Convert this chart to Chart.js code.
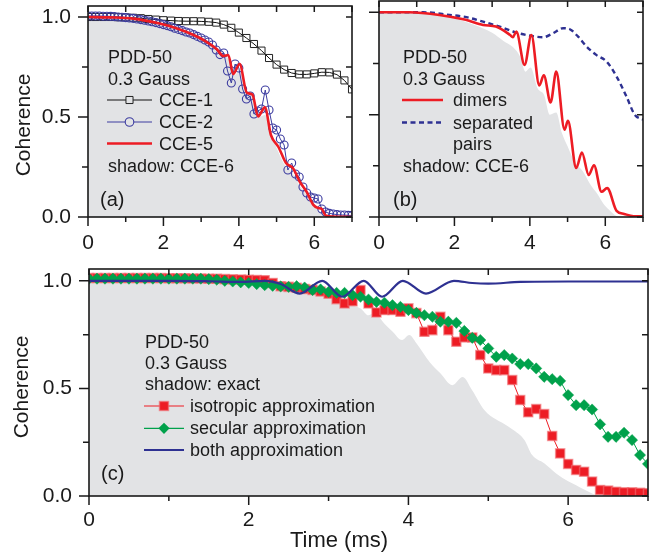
<!DOCTYPE html>
<html>
<head>
<meta charset="utf-8">
<script src="https://cdn.jsdelivr.net/npm/chart.js@4.4.1/dist/chart.umd.min.js"></script>
<style>
  body { margin: 0; background: #fff; }
  #wrap { position: relative; width: 667px; height: 559px; }
  canvas { position: absolute; }
</style>
</head>
<body>
<div id="wrap">
  <canvas id="panelA" width="360" height="262" style="left:0;top:0"></canvas>
  <canvas id="panelB" width="307" height="262" style="left:360px;top:0"></canvas>
  <canvas id="panelC" width="667" height="304" style="left:0;top:255px"></canvas>
</div>
<script>
// time grids (ms)
const t01 = Array.from({length: 71}, (_, i) => i / 10);
const t02 = Array.from({length: 36}, (_, i) => i / 5);

// panel (a)
const cce1 = [1.0, 1.0, 1.0, 1.0, 0.999, 0.998, 0.996, 0.994, 0.99, 0.987, 0.984, 0.982,
  0.98, 0.979, 0.979, 0.978, 0.976, 0.972, 0.962, 0.946, 0.922, 0.895, 0.865, 0.832,
  0.795, 0.762, 0.737, 0.72, 0.713, 0.713, 0.718, 0.724, 0.723, 0.712, 0.683, 0.638];
const cce2 = [1.005, 1.005, 1.005, 1.005, 1.004, 1.004, 1.003, 1.002, 1.0, 0.999,
  0.997, 0.995, 0.993, 0.99, 0.987, 0.984, 0.98, 0.976, 0.972, 0.967,
  0.962, 0.957, 0.951, 0.944, 0.938, 0.932, 0.925, 0.92, 0.912, 0.903,
  0.895, 0.885, 0.875, 0.86, 0.835, 0.812, 0.82, 0.73, 0.67, 0.765,
  0.745, 0.64, 0.59, 0.605, 0.515, 0.53, 0.54, 0.635, 0.535, 0.445,
  0.435, 0.39, 0.36, 0.235, 0.27, 0.215, 0.2, 0.15, 0.12, 0.1,
  0.095, 0.09, 0.04, 0.025, 0.018, 0.015, 0.012, 0.01, 0.01, 0.008, 0.008];
const cce5Time = [0, 0.6, 1.2, 1.9, 2.4, 2.8, 3.1, 3.41, 3.59, 3.72, 3.85, 4.02, 4.21, 4.36,
  4.51, 4.69, 4.85, 5.05, 5.25, 5.44, 5.62, 5.8, 5.97, 6.1, 6.2, 6.3, 6.5, 7.0];
const cce5 = [1.0, 0.998, 0.992, 0.967, 0.94, 0.91, 0.881, 0.84, 0.805, 0.81, 0.715, 0.765,
  0.622, 0.612, 0.503, 0.548, 0.41, 0.35, 0.27, 0.243, 0.175, 0.125, 0.062, 0.045, 0.04,
  0.008, 0.002, 0.0];

// CCE-6 shadow, shared by (a) and (b)
const cce6Time = [0, 1.0, 1.5, 2.0, 2.5, 3.0, 3.3, 3.55, 3.75, 3.88, 4.02, 4.2, 4.38, 4.53,
  4.7, 4.85, 5.0, 5.2, 5.4, 5.6, 5.8, 5.95, 6.1, 6.25, 6.4, 7.0];
const cce6 = [1.0, 0.997, 0.988, 0.97, 0.94, 0.9, 0.86, 0.83, 0.78, 0.71, 0.73, 0.63, 0.595,
  0.5, 0.51, 0.41, 0.345, 0.265, 0.225, 0.16, 0.11, 0.065, 0.035, 0.01, 0.0, 0.0];

// panel (b)
const dimerTime = [0, 0.8, 1.6, 2.3, 2.76, 3.1, 3.47, 3.55, 3.64, 3.86, 4.04, 4.25, 4.37,
  4.55, 4.7, 4.92, 5.01, 5.23, 5.38, 5.56, 5.7, 5.9, 6.05, 6.3, 6.5, 6.75, 7.0];
const dimers = [1.0, 1.0, 0.987, 0.963, 0.938, 0.93, 0.89, 0.878, 0.906, 0.743, 0.889, 0.643,
  0.692, 0.56, 0.71, 0.426, 0.47, 0.239, 0.315, 0.205, 0.253, 0.123, 0.141, 0.03, 0.015,
  0.004, 0.003];
const pairTime = [0, 1.17, 1.87, 2.32, 2.76, 3.2, 3.55, 3.91, 4.35, 4.62, 4.88, 5.06, 5.28,
  5.5, 5.76, 6.03, 6.3, 6.56, 6.78, 7.0];
const pairs = [1.0, 1.0, 0.987, 0.976, 0.954, 0.93, 0.906, 0.889, 0.878, 0.898, 0.922, 0.917,
  0.881, 0.833, 0.792, 0.76, 0.686, 0.589, 0.5, 0.475];

// panel (c)
const isotropic = [1.013, 1.013, 1.013, 1.013, 1.013, 1.013, 1.013, 1.013, 1.013, 1.013,
  1.012, 1.012, 1.012, 1.011, 1.011, 1.01, 1.01, 1.008, 1.007, 1.006,
  1.005, 1.004, 1.003, 0.99, 0.975, 0.972, 0.968, 0.962, 0.958, 0.95,
  0.94, 0.915, 0.895, 0.905, 0.957, 0.895, 0.853, 0.864, 0.864, 0.856,
  0.872, 0.85, 0.763, 0.771, 0.833, 0.771, 0.717, 0.737, 0.737, 0.655,
  0.593, 0.585, 0.585, 0.539, 0.446, 0.389, 0.404, 0.381, 0.279, 0.198,
  0.149, 0.121, 0.113, 0.067, 0.028, 0.025, 0.02, 0.017, 0.017, 0.015, 0.013];
const secular = [1.01, 1.01, 1.01, 1.01, 1.01, 1.01, 1.01, 1.01, 1.01, 1.01,
  1.01, 1.01, 1.01, 1.01, 1.01, 1.008, 1.005, 1.0, 0.997, 0.993,
  0.99, 0.985, 0.98, 0.977, 0.974, 0.972, 0.975, 0.969, 0.957, 0.96,
  0.949, 0.944, 0.944, 0.934, 0.926, 0.913, 0.902, 0.898, 0.887, 0.879,
  0.864, 0.851, 0.84, 0.833, 0.81, 0.81, 0.805, 0.767, 0.735, 0.725,
  0.686, 0.647, 0.655, 0.639, 0.613, 0.613, 0.593, 0.554, 0.543, 0.535,
  0.469, 0.422, 0.422, 0.402, 0.333, 0.275, 0.275, 0.294, 0.26, 0.19, 0.149];
const bothTime = [0, 1.0, 1.5, 1.9, 2.2, 2.4, 2.64, 2.92, 3.17, 3.44, 3.67, 3.93, 4.22, 4.57,
  4.8, 5.0, 5.4, 6.0, 7.0];
const both = [1.0, 1.0, 0.998, 0.995, 1.0, 0.985, 0.941, 1.0, 0.926, 1.0, 0.926, 1.0, 0.941,
  1.0, 0.99, 0.987, 0.995, 0.997, 0.997];
const exactTime = [0, 1.0, 1.5, 2.0, 2.4, 2.8, 3.0, 3.2, 3.4, 3.5, 3.58, 3.7, 3.8, 3.92, 4.01,
  4.1, 4.27, 4.4, 4.55, 4.68, 4.8, 4.95, 5.1, 5.2, 5.3, 5.45, 5.55, 5.7, 5.85, 6.0, 6.1,
  6.2, 6.3, 6.4, 7.0];
const exact = [1.0, 1.0, 0.998, 0.988, 0.973, 0.945, 0.922, 0.893, 0.872, 0.84, 0.85, 0.8,
  0.765, 0.725, 0.748, 0.71, 0.62, 0.57, 0.515, 0.553, 0.49, 0.4, 0.355, 0.335, 0.31, 0.262,
  0.19, 0.152, 0.105, 0.068, 0.05, 0.03, 0.012, 0.0, 0.0];

const INK = '#1a1a1a';
const RED = '#ed1c24';
const NAVY = '#2e3192';
const GREEN = '#00a14b';
const SHADE = '#e2e3e5';
const FONT = "'Liberation Sans', Arial, Helvetica, sans-serif";

Chart.defaults.font.family = FONT;
Chart.defaults.color = INK;

const pts = (xs, ys) => xs.map((x, i) => ({x: x, y: ys[i]}));

function drawMarker(ctx, kind, x, y, r, fill, stroke, lw) {
    ctx.beginPath();
    if (kind === 'rect') {
        const h = r * Math.SQRT1_2;
        ctx.rect(x - h, y - h, 2 * h, 2 * h);
    } else if (kind === 'rectRot') {
        ctx.moveTo(x - r, y); ctx.lineTo(x, y - r); ctx.lineTo(x + r, y); ctx.lineTo(x, y + r);
        ctx.closePath();
    } else {
        ctx.arc(x, y, r, 0, Math.PI * 2);
    }
    if (fill) { ctx.fillStyle = fill; ctx.fill(); }
    if (stroke) { ctx.strokeStyle = stroke; ctx.lineWidth = lw || 1; ctx.stroke(); }
}

// box round the plot with ticks on all four sides
const framePlugin = {
    id: 'frame',
    afterDraw(chart) {
        const ctx = chart.ctx;
        const a = chart.chartArea;
        const x = chart.scales.x, y = chart.scales.y;
        ctx.save();
        ctx.strokeStyle = INK;
        ctx.lineWidth = 1.5;
        ctx.beginPath();
        x.ticks.forEach(tk => {
            const px = x.getPixelForValue(tk.value);
            const major = tk.value % 2 === 0;
            ctx.moveTo(px, a.bottom); ctx.lineTo(px, a.bottom + (major ? 9 : 5));
            ctx.moveTo(px, a.top); ctx.lineTo(px, a.top + 6);
        });
        y.ticks.forEach(tk => {
            const py = y.getPixelForValue(tk.value);
            const major = Math.abs(tk.value * 2 - Math.round(tk.value * 2)) < 1e-9;
            ctx.moveTo(a.left, py); ctx.lineTo(a.left - (major ? 10 : 6), py);
            ctx.moveTo(a.right, py); ctx.lineTo(a.right - 6, py);
        });
        ctx.stroke();
        ctx.lineWidth = 1.6;
        ctx.strokeRect(a.left, a.top, a.right - a.left, a.bottom - a.top);
        ctx.restore();
    }
};

// legend block, panel letter and axis titles
const notesPlugin = {
    id: 'notes',
    afterDraw(chart, args, opts) {
        const ctx = chart.ctx;
        ctx.save();
        (opts.samples || []).forEach(s => {
            ctx.strokeStyle = s.color;
            ctx.lineWidth = s.width;
            ctx.setLineDash(s.dash || []);
            ctx.beginPath(); ctx.moveTo(s.x1, s.y); ctx.lineTo(s.x2, s.y); ctx.stroke();
            ctx.setLineDash([]);
            if (s.marker) drawMarker(ctx, s.marker, (s.x1 + s.x2) / 2, s.y, s.r, s.fill, s.stroke, s.lw);
        });
        ctx.fillStyle = INK;
        (opts.texts || []).forEach(t => {
            ctx.font = (t.size || 18) + 'px ' + FONT;
            if (t.rotate) {
                ctx.save();
                ctx.translate(t.x, t.y);
                ctx.rotate(-Math.PI / 2);
                ctx.textAlign = 'center'; ctx.textBaseline = 'middle';
                ctx.fillText(t.text, 0, 0);
                ctx.restore();
            } else {
                ctx.textAlign = t.align || 'left'; ctx.textBaseline = t.baseline || 'alphabetic';
                ctx.fillText(t.text, t.x, t.y);
            }
        });
        ctx.restore();
    }
};

Chart.register(framePlugin, notesPlugin);

function axes(yWidth, xHeight, showY, xPad) {
    return {
        x: {
            type: 'linear', min: 0, max: 7,
            grid: {display: false, drawTicks: false}, border: {display: false},
            ticks: {
                stepSize: 1, autoSkip: false, maxRotation: 0, padding: xPad, font: {size: 21},
                callback: v => (v % 2 === 0 ? String(v) : '')
            },
            afterFit: s => { s.height = xHeight; s.paddingLeft = 0; s.paddingRight = 0; }
        },
        y: {
            type: 'linear', min: 0, max: 1.055,
            grid: {display: false, drawTicks: false}, border: {display: false},
            ticks: {
                display: showY, stepSize: 0.25, includeBounds: false, autoSkip: false,
                padding: 17, font: {size: 21},
                callback: v => (Math.abs(v * 2 - Math.round(v * 2)) < 1e-9 ? v.toFixed(1) : '')
            },
            afterFit: s => { s.width = yWidth; s.paddingTop = 0; s.paddingBottom = 0; }
        }
    };
}

function shadow(xs, ys) {
    return {
        data: pts(xs, ys), fill: 'origin', backgroundColor: SHADE, borderWidth: 0,
        pointRadius: 0, cubicInterpolationMode: 'monotone'
    };
}

const base = {
    responsive: false, animation: false, devicePixelRatio: 1, events: []
};

// (a) CCE orders ------------------------------------------------------------
new Chart(document.getElementById('panelA'), {
    type: 'line',
    data: {
        datasets: [
            {label: 'CCE-5', data: pts(cce5Time, cce5), borderColor: RED, borderWidth: 2.6,
                pointRadius: 0, cubicInterpolationMode: 'monotone'},
            {label: 'CCE-2', data: pts(t01, cce2), borderColor: '#3c3ca0', borderWidth: 1,
                pointStyle: 'circle', pointRadius: 4, pointBorderColor: '#3c3ca0',
                pointBackgroundColor: 'rgba(0,0,0,0)', pointBorderWidth: 1.1},
            {label: 'CCE-1', data: pts(t02, cce1), borderColor: '#111', borderWidth: 1,
                pointStyle: 'rect', pointRadius: 5, pointBorderColor: '#222',
                pointBackgroundColor: 'rgba(0,0,0,0)', pointBorderWidth: 1},
            shadow(cce6Time, cce6)
        ]
    },
    options: Object.assign({}, base, {
        layout: {padding: {top: 1, right: 8, left: 0, bottom: 0}},
        scales: axes(88, 45, true, 14),
        plugins: {
            legend: {display: false}, tooltip: {enabled: false},
            notes: {
                samples: [
                    {x1: 107, x2: 152, y: 100, color: '#111', width: 1, marker: 'rect', r: 5, fill: SHADE, stroke: '#222'},
                    {x1: 107, x2: 152, y: 122, color: '#3c3ca0', width: 1, marker: 'circle', r: 4.3, fill: SHADE, stroke: '#3c3ca0', lw: 1.1},
                    {x1: 107, x2: 152, y: 143.5, color: RED, width: 2.6}
                ],
                texts: [
                    {text: 'PDD-50', x: 108, y: 63},
                    {text: '0.3 Gauss', x: 108, y: 84.5},
                    {text: 'CCE-1', x: 159, y: 106},
                    {text: 'CCE-2', x: 159, y: 128},
                    {text: 'CCE-5', x: 159, y: 149.5},
                    {text: 'shadow: CCE-6', x: 108, y: 172},
                    {text: '(a)', x: 100, y: 206, size: 20},
                    {text: 'Coherence', x: 24, y: 125, size: 21, rotate: true}
                ]
            }
        }
    })
});

// (b) dimers vs separated pairs ---------------------------------------------
new Chart(document.getElementById('panelB'), {
    type: 'line',
    data: {
        datasets: [
            {label: 'dimers', data: pts(dimerTime, dimers), borderColor: RED, borderWidth: 2.6,
                pointRadius: 0, cubicInterpolationMode: 'monotone'},
            {label: 'separated pairs', data: pts(pairTime, pairs), borderColor: NAVY, borderWidth: 2.4,
                borderDash: [5, 3.5], pointRadius: 0, cubicInterpolationMode: 'monotone'},
            shadow(cce6Time, cce6)
        ]
    },
    options: Object.assign({}, base, {
        layout: {padding: {top: 1, right: 24, left: 0, bottom: 0}},
        scales: axes(19, 45, false, 14),
        plugins: {
            legend: {display: false}, tooltip: {enabled: false},
            notes: {
                samples: [
                    {x1: 42, x2: 83, y: 100, color: RED, width: 2.6},
                    {x1: 42, x2: 83, y: 122.5, color: NAVY, width: 2.4, dash: [5, 3.5]}
                ],
                texts: [
                    {text: 'PDD-50', x: 43, y: 63},
                    {text: '0.3 Gauss', x: 43, y: 84.5},
                    {text: 'dimers', x: 93, y: 106},
                    {text: 'separated', x: 93, y: 128.5},
                    {text: 'pairs', x: 93, y: 150},
                    {text: 'shadow: CCE-6', x: 43, y: 172},
                    {text: '(b)', x: 33, y: 206, size: 20}
                ]
            }
        }
    })
});

// (c) approximations vs exact -----------------------------------------------
new Chart(document.getElementById('panelC'), {
    type: 'line',
    data: {
        datasets: [
            {label: 'both approximation', data: pts(bothTime, both), borderColor: NAVY, borderWidth: 2.2,
                pointRadius: 0, cubicInterpolationMode: 'monotone'},
            {label: 'secular approximation', data: pts(t01, secular), borderColor: GREEN, borderWidth: 1,
                pointStyle: 'rectRot', pointRadius: 5.6, pointBackgroundColor: GREEN,
                pointBorderColor: 'rgba(0,161,75,0.5)', pointBorderWidth: 1},
            {label: 'isotropic approximation', data: pts(t01, isotropic), borderColor: RED, borderWidth: 1,
                pointStyle: 'rect', pointRadius: 6.4, pointBackgroundColor: RED,
                pointBorderColor: 'rgba(240,110,115,0.6)', pointBorderWidth: 1.5},
            shadow(exactTime, exact)
        ]
    },
    options: Object.assign({}, base, {
        layout: {padding: {top: 14, right: 19, left: 0, bottom: 0}},
        scales: axes(89, 63, true, 12),
        plugins: {
            legend: {display: false}, tooltip: {enabled: false},
            notes: {
                samples: [
                    {x1: 144, x2: 184, y: 151, color: RED, width: 1.2, marker: 'rect', r: 6.4, fill: RED, stroke: 'rgba(240,110,115,0.6)', lw: 1.5},
                    {x1: 144, x2: 184, y: 173.3, color: GREEN, width: 1.2, marker: 'rectRot', r: 5.6, fill: GREEN},
                    {x1: 144, x2: 184, y: 195, color: NAVY, width: 2.2}
                ],
                texts: [
                    {text: 'PDD-50', x: 145, y: 92.5},
                    {text: '0.3 Gauss', x: 145, y: 113.5},
                    {text: 'shadow: exact', x: 145, y: 135},
                    {text: 'isotropic approximation', x: 190, y: 157},
                    {text: 'secular approximation', x: 190, y: 179},
                    {text: 'both approximation', x: 190, y: 200.5},
                    {text: '(c)', x: 101, y: 225, size: 20},
                    {text: 'Coherence', x: 22, y: 132, size: 21, rotate: true},
                    {text: 'Time (ms)', x: 339, y: 286, size: 22, align: 'center', baseline: 'middle'}
                ]
            }
        }
    })
});
</script>
</body>
</html>
